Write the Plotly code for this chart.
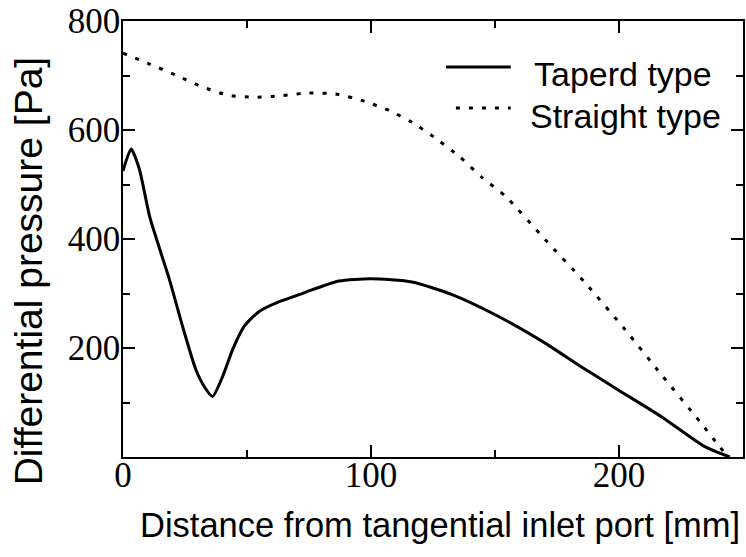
import plotly.graph_objects as go

# ---- data ----
taper_x = [0, 3.3, 6.6, 10.7, 14, 18.7, 24, 29.4, 32.8, 36.1, 40.2, 44.2, 48.9, 54.9, 63, 71,
           76.4, 87.1, 100, 116.6, 132.7, 150.1, 170.2, 183.6, 199.7, 217.1, 234.6, 244.7]
taper_y = [525, 565, 528, 442, 393, 326, 240, 160, 129, 111, 148, 197, 240, 267, 285, 298,
           307, 323, 327, 321, 298, 261, 209, 169, 123, 74, 19, 0]

straight_x = [0, 10.7, 21.1, 31.5, 42.2, 52.9, 64, 75, 85.8, 96.5, 107.2, 116.6, 126.6, 136,
              144.7, 154.1, 170.2, 186.3, 202.4, 217.1, 232.6, 240, 244]
straight_y = [741, 721, 701, 680, 664, 660, 663, 668, 666, 654, 636, 614, 583, 550,
              513, 479, 399, 320, 234, 151, 65, 22, 0]

series_names = ["Taperd type", "Straight type"]
x_ticks = [0, 100, 200]
y_ticks = [200, 400, 600, 800]
x_title = "Distance from tangential inlet port [mm]"
y_title = "Differential pressure [Pa]"

DOT = "4px,9px"
SANS = "Liberation Sans"
SERIF = "Liberation Serif"

fig = go.Figure()
fig.add_trace(go.Scatter(x=taper_x, y=taper_y, mode="lines", name=series_names[0],
                         line=dict(color="black", width=3, shape="spline", smoothing=0.6),
                         showlegend=False))
fig.add_trace(go.Scatter(x=straight_x, y=straight_y, mode="lines", name=series_names[1],
                         line=dict(color="black", width=3, dash=DOT, shape="spline", smoothing=0.6),
                         showlegend=False))

W, H = 746, 557
L, R, T, B = 123, 1, 21, 100
pw, ph = W - L - R, H - T - B


def px(xp):
    return (xp - L) / pw


def py(yp):
    return (H - B - yp) / ph


axis_common = dict(showline=True, linecolor="black", linewidth=1.5, mirror="ticks",
                   ticks="inside", ticklen=12, tickwidth=1.5, tickcolor="black",
                   showgrid=False, zeroline=False,
                   tickfont=dict(family=SERIF, size=35, color="black"))

fig.update_xaxes(range=[0, 250], tickvals=x_ticks, ticklabelstandoff=-14,
                 minor=dict(ticks="inside", ticklen=7, tickwidth=1.5, tickcolor="black",
                            tickvals=[50, 150, 250]),
                 **axis_common)
fig.update_yaxes(range=[0, 800], tickvals=y_ticks, ticklabelstandoff=-6,
                 minor=dict(ticks="inside", ticklen=7, tickwidth=1.5, tickcolor="black",
                            tickvals=[100, 300, 500, 700]),
                 **axis_common)

annotations = [
    dict(text=x_title, xref="paper", yref="paper", x=px(441), y=py(525),
         xanchor="center", yanchor="middle", showarrow=False,
         font=dict(family=SANS, size=34.5, color="black")),
    dict(text=y_title, xref="paper", yref="paper", x=px(28), y=py(271),
         xanchor="center", yanchor="middle", showarrow=False, textangle=-90,
         font=dict(family=SANS, size=39, color="black")),
    dict(text=series_names[0], xref="paper", yref="paper", x=px(533), y=py(74),
         xanchor="left", yanchor="middle", showarrow=False,
         font=dict(family=SANS, size=34, color="black")),
    dict(text=series_names[1], xref="paper", yref="paper", x=px(529), y=py(116),
         xanchor="left", yanchor="middle", showarrow=False,
         font=dict(family=SANS, size=34, color="black")),
]

shapes = [
    dict(type="line", xref="paper", yref="paper", x0=px(447), x1=px(512), y0=py(67), y1=py(67),
         line=dict(color="black", width=3)),
    dict(type="line", xref="paper", yref="paper", x0=px(457), x1=px(512), y0=py(108), y1=py(108),
         line=dict(color="black", width=3, dash=DOT)),
]

fig.update_layout(width=W, height=H, margin=dict(l=L, r=R, t=T, b=B),
                  paper_bgcolor="white", plot_bgcolor="white",
                  annotations=annotations, shapes=shapes, showlegend=False)

fig.write_html("out.html")
